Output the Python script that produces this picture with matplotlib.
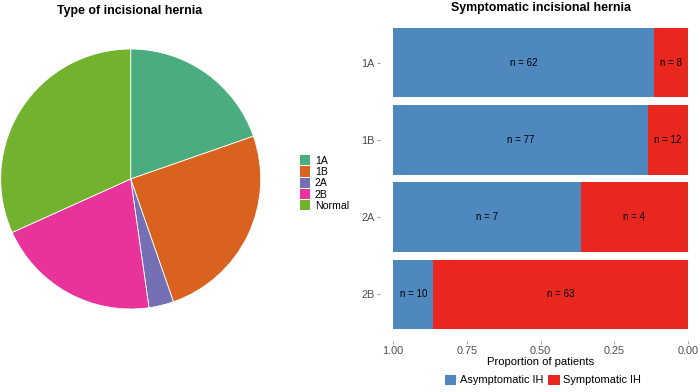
import matplotlib
matplotlib.use("Agg")
import matplotlib.pyplot as plt
from matplotlib.patches import Patch
import numpy as np

plt.rcParams['font.family'] = ['Liberation Sans', 'DejaVu Sans']

# pie data
hernia_types = ['1A', '1B', '2A', '2B', 'Normal']
type_counts = [70, 89, 11, 73, 113]
pie_colors = ['#4BAD7F', '#D9621E', '#7570B3', '#E7339A', '#72B22E']

# bar data
bar_groups = ['1A', '1B', '2A', '2B']
asymptomatic = [62, 77, 7, 10]
symptomatic = [8, 12, 4, 63]
blue = '#4E88BE'
red = '#E8281F'

fig = plt.figure(figsize=(7, 3.92), dpi=100)

# --- pie ---
ax1 = fig.add_axes([0.001, 0.2117, 0.3714, 0.6633])
ax1.pie(type_counts, colors=pie_colors, startangle=90, counterclock=False,
        radius=1, wedgeprops=dict(edgecolor='white', linewidth=0.6))
ax1.set_xlim(-1, 1)
ax1.set_ylim(-1, 1)
ax1.set_aspect('equal')
ax1.axis('off')
fig.text(130 / 700, 1 - 11 / 392, 'Type of incisional hernia', ha='center', va='center',
         fontsize=8.9, fontweight='bold')
handles = [Patch(facecolor=c, edgecolor='none') for c in pie_colors]
fig.legend(handles, hernia_types, loc='center left', bbox_to_anchor=(290 / 700, 1 - 183 / 392),
           frameon=False, fontsize=7.6, handlelength=0.95, handleheight=1.1,
           handletextpad=0.5, labelspacing=0.05)

# --- stacked proportions ---
ax2 = fig.add_axes([393 / 700, 1 - 340.5 / 392, 295 / 700, 324 / 392])
y = np.arange(len(bar_groups))
tot = np.array(asymptomatic) + np.array(symptomatic)
p_sym = np.array(symptomatic) / tot
p_asym = np.array(asymptomatic) / tot
ax2.barh(y, p_sym, left=0, height=0.9, color=red)
ax2.barh(y, p_asym, left=p_sym, height=0.9, color=blue)
for i in range(len(bar_groups)):
    ax2.text(p_sym[i] + p_asym[i] / 2, y[i], 'n = %d' % asymptomatic[i],
             ha='center', va='center', fontsize=7, color='black')
    ax2.text(p_sym[i] / 2, y[i], 'n = %d' % symptomatic[i],
             ha='center', va='center', fontsize=7, color='black')
ax2.set_xlim(1, 0)
ax2.set_ylim(len(bar_groups) - 0.4, -0.6)
ax2.set_yticks(y)
ax2.set_yticklabels(bar_groups)
ax2.set_xticks([1.0, 0.75, 0.5, 0.25, 0.0])
ax2.set_xticklabels(['1.00', '0.75', '0.50', '0.25', '0.00'])
ax2.tick_params(axis='both', labelsize=7.8, labelcolor='#4D4D4D', color='#8C8C8C',
                length=2, width=0.6, pad=2)
for s in ax2.spines.values():
    s.set_visible(False)
ax2.spines['left'].set_position(('outward', 9.4))
ax2.set_xlabel('Proportion of patients', fontsize=8.1, labelpad=1)
fig.text(541 / 700, 1 - 8 / 392, 'Symptomatic incisional hernia', ha='center', va='center',
         fontsize=8.9, fontweight='bold')

leg_handles = [Patch(facecolor=blue, edgecolor='none'), Patch(facecolor=red, edgecolor='none')]
fig.legend(leg_handles, ['Asymptomatic IH', 'Symptomatic IH'], loc='center',
           bbox_to_anchor=(543 / 700, 1 - 380 / 392), ncol=2, frameon=False, fontsize=7.9,
           handlelength=1.05, handleheight=1.05, handletextpad=0.3, columnspacing=0.5)

fig.savefig('out.png', dpi=100)
